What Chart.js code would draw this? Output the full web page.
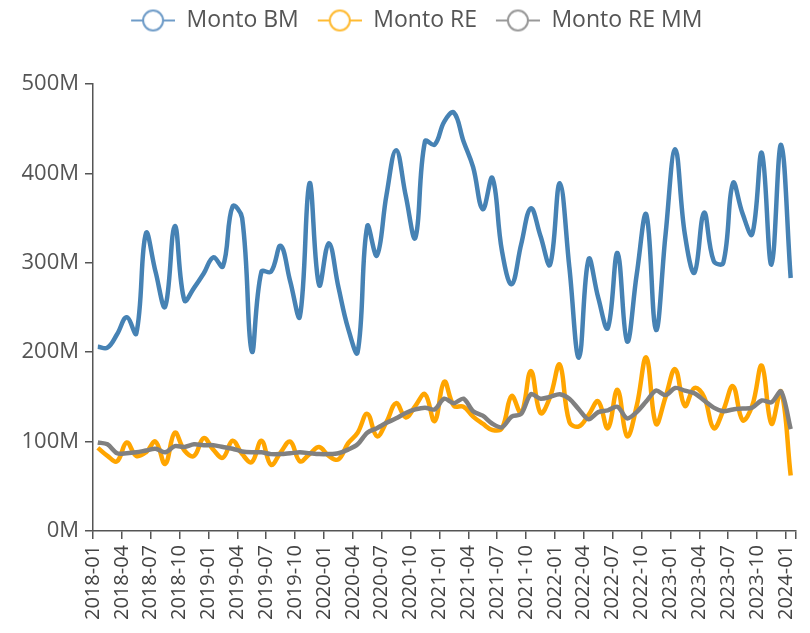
<!DOCTYPE html>
<html>
<head>
<meta charset="utf-8">
<script src="https://cdn.jsdelivr.net/npm/chart.js@4.4.1/dist/chart.umd.min.js"></script>
<style>
  html, body { margin: 0; padding: 0; background: #fff; }
  #wrap { width: 810px; height: 633px; }
</style>
</head>
<body>
<div id="wrap"><canvas id="lineChart" width="810" height="633"></canvas></div>
<script>
const months = [
  "2018-01","2018-02","2018-03","2018-04","2018-05","2018-06","2018-07","2018-08","2018-09","2018-10","2018-11","2018-12",
  "2019-01","2019-02","2019-03","2019-04","2019-05","2019-06","2019-07","2019-08","2019-09","2019-10","2019-11","2019-12",
  "2020-01","2020-02","2020-03","2020-04","2020-05","2020-06","2020-07","2020-08","2020-09","2020-10","2020-11","2020-12",
  "2021-01","2021-02","2021-03","2021-04","2021-05","2021-06","2021-07","2021-08","2021-09","2021-10","2021-11","2021-12",
  "2022-01","2022-02","2022-03","2022-04","2022-05","2022-06","2022-07","2022-08","2022-09","2022-10","2022-11","2022-12",
  "2023-01","2023-02","2023-03","2023-04","2023-05","2023-06","2023-07","2023-08","2023-09","2023-10","2023-11","2023-12",
  "2024-01"
];

// values in millions
const montoBM = [
  206,205,220,239,221,333,290,251,341,258,
  272,288,306,296,363,350,201,290,290,319,
  279,240,389,275,322,273,227,200,341,308,
  376,426,375,328,436,432,458,468,436,407,
  360,395,313,276,321,361,330,298,389,295,
  194,304,261,227,311,212,287,354,225,332,
  427,332,289,356,302,300,389,355,332,423,
  298,432,283
];
const montoRE = [
  93,84,78,99,84,88,100,75,110,90,
  84,104,91,82,101,86,77,101,74,88,
  100,78,86,94,84,80,98,110,131,106,
  122,143,127,140,153,123,167,140,139,128,
  120,113,115,151,132,179,132,150,186,122,
  117,130,145,115,158,106,140,194,120,150,
  181,140,160,150,115,135,162,124,140,185,
  120,156,62
];
const montoREMM = [
  99,97,87,87,88,90,92,88,95,94,
  97,96,96,94,92,89,88,88,86,86,
  87,88,87,86,86,87,91,97,110,115,
  121,126,132,136,138,136,148,143,148,134,
  129,120,116,128,131,153,148,150,153,148,
  136,125,133,135,139,126,133,145,157,152,
  160,157,154,146,138,134,136,137,138,146,
  144,156,114
];

const tickLabels = [
  "2018-01","2018-04","2018-07","2018-10","2019-01","2019-04","2019-07","2019-10",
  "2020-01","2020-04","2020-07","2020-10","2021-01","2021-04","2021-07","2021-10",
  "2022-01","2022-04","2022-07","2022-10","2023-01","2023-04","2023-07","2023-10","2024-01"
];
const yTicks = [0, 100, 200, 300, 400, 500];

// small "line through circle" legend marker
function legendIcon(color) {
  const c = document.createElement("canvas");
  c.width = 54;
  c.height = 24;
  const g = c.getContext("2d");
  g.strokeStyle = color;
  g.lineWidth = 2;
  g.beginPath();
  g.moveTo(10, 12);
  g.lineTo(54, 12);
  g.stroke();
  g.beginPath();
  g.arc(32, 12, 10, 0, Math.PI * 2);
  g.fillStyle = "#fff";
  g.fill();
  g.stroke();
  return c;
}

// month i is drawn in the middle of its month slot
const toPoints = (vals) => vals.map((v, i) => ({ x: i + 0.5, y: v }));

const legendExtra = 42;
const legendShift = 14;
const legendGap = {
  id: "legendGap",
  beforeLayout(chart) {
    const lg = chart.legend;
    if (lg && !lg._patched) {
      const fit = lg.fit;
      lg.fit = function () {
        fit.call(this);
        this.height += legendExtra;
      };
      lg._patched = true;
    }
  },
  afterLayout(chart) {
    // legend in the reference sits a little right of the page centre
    chart.legend.left += legendShift;
    chart.legend.right += legendShift;
  },
};

Chart.defaults.font.family = "'Open Sans', sans-serif";

const ctx = document.getElementById("lineChart").getContext("2d");
new Chart(ctx, {
  type: "line",
  data: {
    datasets: [
      {
        label: "Monto BM",
        data: toPoints(montoBM),
        borderColor: "#4682b4",
        backgroundColor: "#4682b4",
        borderWidth: 4.5,
        tension: 0.4,
        pointRadius: 0,
        pointStyle: legendIcon("#6f9cc8"),
        order: 0,
      },
      {
        label: "Monto RE",
        data: toPoints(montoRE),
        borderColor: "#ffa500",
        backgroundColor: "#ffa500",
        borderWidth: 4.5,
        tension: 0.4,
        pointRadius: 0,
        pointStyle: legendIcon("#ffbb33"),
        order: 2,
      },
      {
        label: "Monto RE MM",
        data: toPoints(montoREMM),
        borderColor: "#808080",
        backgroundColor: "#808080",
        borderWidth: 4.5,
        tension: 0.3,
        pointRadius: 0,
        pointStyle: legendIcon("#999999"),
        order: 1,
      },
    ],
  },
  options: {
    responsive: false,
    animation: false,
    layout: { padding: { left: 0, right: 14.5, top: 0, bottom: 0 } },
    plugins: {
      legend: {
        position: "top",
        labels: {
          usePointStyle: true,
          pointStyleWidth: 54,
          padding: 9,
          color: "#555",
          font: { size: 23 },
          sort: (a, b) => a.datasetIndex - b.datasetIndex,
        },
      },
      tooltip: { enabled: false },
    },
    scales: {
      x: {
        type: "linear",
        min: 0,
        max: months.length,
        afterFit: (s) => {
          s.height = 102;
          s.paddingLeft = 0;
          s.paddingRight = 0;
        },
        afterBuildTicks: (s) => {
          const t = tickLabels.map((_, k) => ({ value: k * 3 }));
          t.push({ value: months.length });
          s.ticks = t;
        },
        grid: { display: true, drawOnChartArea: false, drawTicks: true, tickLength: 8, color: "#555", lineWidth: 1.5 },
        border: { display: true, color: "#555", width: 1.5 },
        ticks: {
          autoSkip: false,
          minRotation: 90,
          maxRotation: 90,
          color: "#444",
          font: { size: 20 },
          padding: 6,
          callback: (v) => (v % 3 === 0 && v / 3 < tickLabels.length ? tickLabels[v / 3] : ""),
        },
      },
      y: {
        min: 0,
        max: 500,
        afterFit: (s) => { s.width = 93; },
        afterBuildTicks: (s) => { s.ticks = yTicks.map((v) => ({ value: v })); },
        grid: { display: true, drawOnChartArea: false, drawTicks: true, tickLength: 8, color: "#555", lineWidth: 1.5 },
        border: { display: true, color: "#555", width: 1.5 },
        ticks: {
          color: "#555",
          font: { size: 22 },
          padding: 6,
          callback: (v) => v + "M",
        },
      },
    },
  },
  plugins: [legendGap],
});
</script>
</body>
</html>
